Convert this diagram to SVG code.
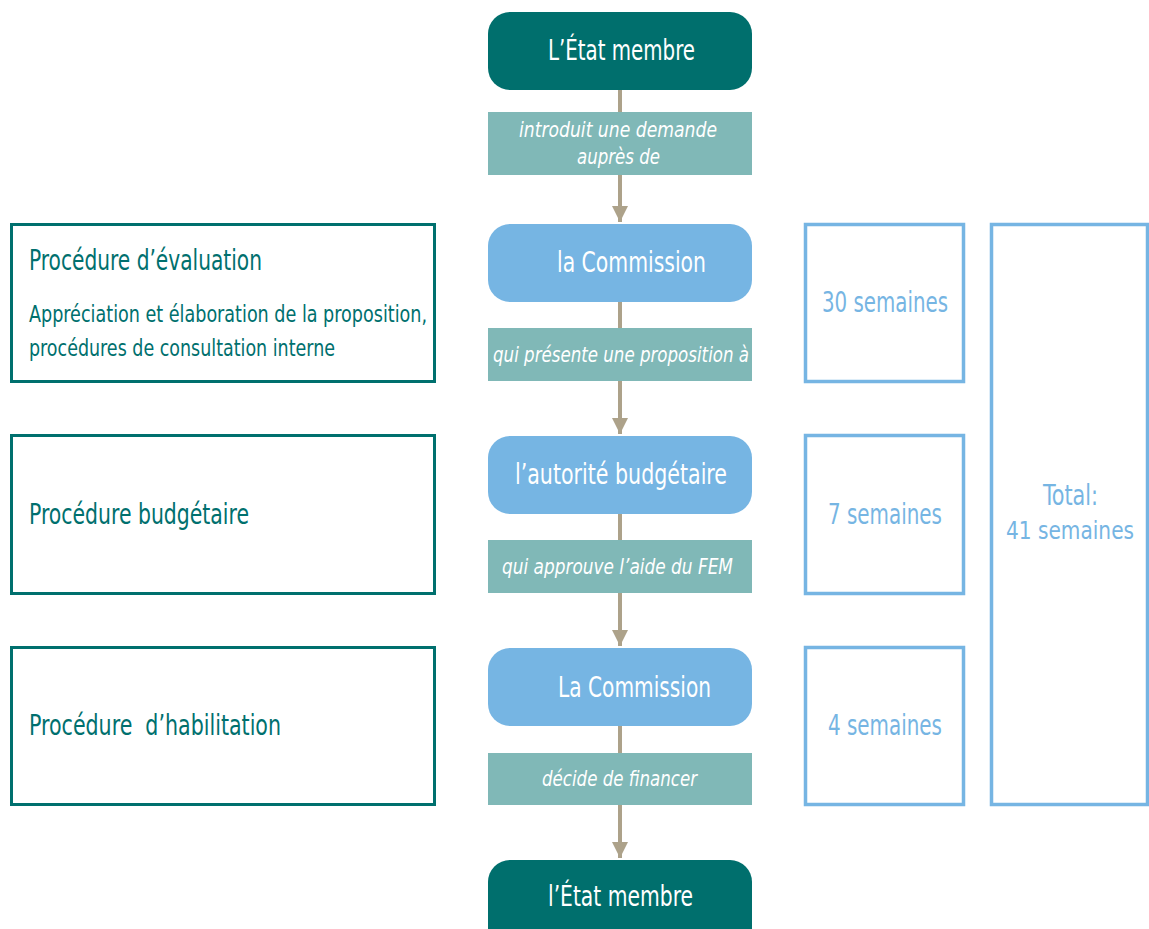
<svg xmlns="http://www.w3.org/2000/svg" width="1149" height="929" viewBox="0 0 1149 929">
<defs>
<style>
text{font-family:"DejaVu Sans Condensed","Liberation Sans Narrow","Liberation Sans",sans-serif;font-stretch:condensed}
.nt{fill:#ffffff;font-size:28px}
.lb{fill:#ffffff;font-size:22px;font-style:italic}
.dark{fill:#006f6d}
.blue{fill:#76b5e3}
.lrect{fill:#80b8b7}
.gbox{fill:none;stroke:#00706e;stroke-width:3}
.bbox{fill:none;stroke:#76b5e3;stroke-width:3.5}
.gt{fill:#00706e}
.bt{fill:#76b5e3;font-size:28px}
.con{stroke:#ada28a;stroke-width:4;fill:none}
</style>
<marker id="ah" viewBox="0 0 16 16" refX="16" refY="8" markerWidth="16" markerHeight="16" markerUnits="userSpaceOnUse" orient="auto">
<path d="M0,0 L16,8 L0,16 Z" fill="#ada28a"/>
</marker>
</defs>
<g id="connectors">
<line class="con" x1="620" y1="90" x2="620" y2="222" marker-end="url(#ah)"/>
<line class="con" x1="620" y1="302" x2="620" y2="434" marker-end="url(#ah)"/>
<line class="con" x1="620" y1="514" x2="620" y2="646" marker-end="url(#ah)"/>
<line class="con" x1="620" y1="726" x2="620" y2="858" marker-end="url(#ah)"/>
</g>
<g id="node-etat1"><rect class="dark" x="488" y="12" width="264" height="78" rx="22"/><text class="nt" x="548" y="60" textLength="147" lengthAdjust="spacingAndGlyphs">L’État membre</text></g>
<g id="label1"><rect class="lrect" x="488" y="112" width="264" height="63"/><text class="lb" x="519" y="137" textLength="198" lengthAdjust="spacingAndGlyphs">introduit une demande</text><text class="lb" x="577" y="164" textLength="83" lengthAdjust="spacingAndGlyphs">auprès de</text></g>
<g id="node-commission1"><rect class="blue" x="488" y="224" width="264" height="78" rx="22"/><text class="nt" x="557" y="272" textLength="149" lengthAdjust="spacingAndGlyphs">la Commission</text></g>
<g id="label2"><rect class="lrect" x="488" y="328" width="264" height="53"/><text class="lb" x="493" y="362" textLength="256" lengthAdjust="spacingAndGlyphs">qui présente une proposition à</text></g>
<g id="node-autorite"><rect class="blue" x="488" y="436" width="264" height="78" rx="22"/><text class="nt" x="515" y="484" textLength="212" lengthAdjust="spacingAndGlyphs">l’autorité budgétaire</text></g>
<g id="label3"><rect class="lrect" x="488" y="540" width="264" height="53"/><text class="lb" x="502" y="574" textLength="231" lengthAdjust="spacingAndGlyphs">qui approuve l’aide du FEM</text></g>
<g id="node-commission2"><rect class="blue" x="488" y="648" width="264" height="78" rx="22"/><text class="nt" x="558" y="697" textLength="153" lengthAdjust="spacingAndGlyphs">La Commission</text></g>
<g id="label4"><rect class="lrect" x="488" y="753" width="264" height="52"/><text class="lb" x="542" y="786" textLength="155" lengthAdjust="spacingAndGlyphs">décide de financer</text></g>
<g id="node-etat2"><rect class="dark" x="488" y="860" width="264" height="95" rx="22"/><text class="nt" x="548" y="906" textLength="145" lengthAdjust="spacingAndGlyphs">l’État membre</text></g>
<g id="proc-evaluation"><rect class="gbox" x="11.5" y="224.5" width="423" height="157"/><text class="gt" x="29" y="270" font-size="28" textLength="233" lengthAdjust="spacingAndGlyphs">Procédure d’évaluation</text><text class="gt" x="29" y="322" font-size="23" textLength="398" lengthAdjust="spacingAndGlyphs">Appréciation et élaboration de la proposition,</text><text class="gt" x="29" y="356" font-size="23" textLength="306" lengthAdjust="spacingAndGlyphs">procédures de consultation interne</text></g>
<g id="proc-budgetaire"><rect class="gbox" x="11.5" y="435.5" width="423" height="158"/><text class="gt" x="29" y="524" font-size="28" textLength="220" lengthAdjust="spacingAndGlyphs">Procédure budgétaire</text></g>
<g id="proc-habilitation"><rect class="gbox" x="11.5" y="647.5" width="423" height="157"/><text class="gt" x="29" y="735" font-size="28" xml:space="preserve" textLength="252" lengthAdjust="spacingAndGlyphs">Procédure  d’habilitation</text></g>
<g id="dur-30"><rect class="bbox" x="805.5" y="224.5" width="158" height="157"/><text class="bt" x="822" y="312" textLength="126" lengthAdjust="spacingAndGlyphs">30 semaines</text></g>
<g id="dur-7"><rect class="bbox" x="805.5" y="435.5" width="158" height="158"/><text class="bt" x="828" y="524" textLength="114" lengthAdjust="spacingAndGlyphs">7 semaines</text></g>
<g id="dur-4"><rect class="bbox" x="805.5" y="647.5" width="158" height="157"/><text class="bt" x="828" y="735" textLength="114" lengthAdjust="spacingAndGlyphs">4 semaines</text></g>
<g id="dur-total"><rect class="bbox" x="991.5" y="224.5" width="156" height="580"/><text class="bt" x="1043" y="505" textLength="55" lengthAdjust="spacingAndGlyphs">Total:</text><text class="bt" x="1006" y="539" style="font-size:24px" textLength="128" lengthAdjust="spacingAndGlyphs">41 semaines</text></g>
</svg>
